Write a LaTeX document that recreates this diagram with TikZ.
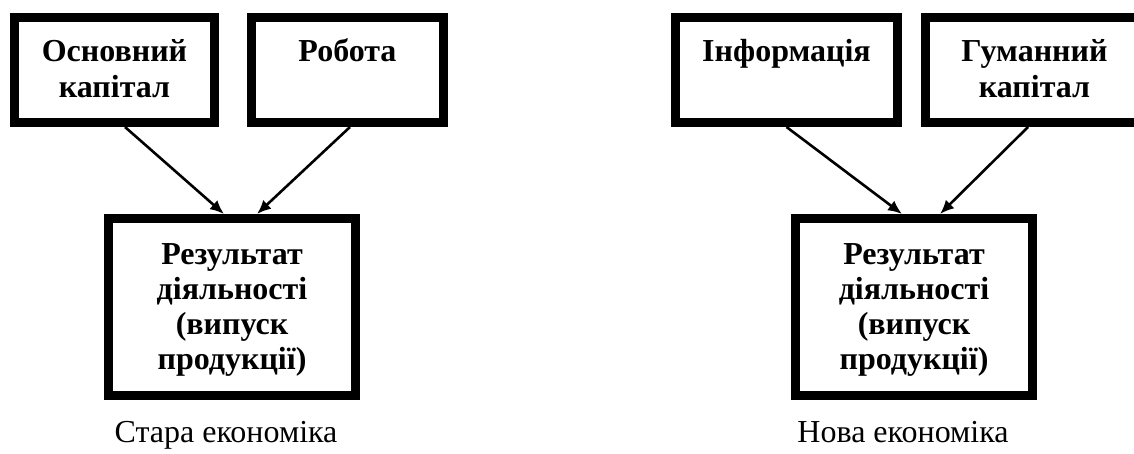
\documentclass[tikz,border=0pt]{standalone}
\usepackage{fontspec}
\setmainfont{Liberation Serif}
\usetikzlibrary{arrows.meta}
\newcommand{\topstrut}{\rule{0pt}{28pt}}
\newcommand{\botstrut}{\rule[-8pt]{0pt}{8pt}}
\tikzset{
  box/.style={draw=black, line width=9pt, fill=white, align=center, inner sep=0pt,
    font=\fontsize{32}{36}\selectfont\bfseries},
  resbox/.style={box, font=\fontsize{32}{35}\selectfont\bfseries},
  arr/.style={line width=2.6pt, -{Latex[length=14pt,width=12pt]}},
  caption/.style={font=\fontsize{32}{36}\selectfont, anchor=base, inner sep=0pt}
}
\begin{document}
\begin{tikzpicture}[x=1pt,y=-1pt]
\useasboundingbox (0,0) rectangle (1134,454);
% old economy
\node[box, minimum width=200pt, minimum height=105pt] (b1) at (114.5,70) {\topstrut Основний\\капітал\botstrut};
\node[box, minimum width=192pt, minimum height=105pt] (b2) at (347.5,70) {\topstrut Робота\\\mbox{}\botstrut};
\node[resbox, minimum width=247pt, minimum height=177pt] (r1) at (232,307) {\topstrut Результат\\діяльності\\(випуск\\продукції)\botstrut};
\draw[arr] ([xshift=10.5pt]b1.south) -- ([xshift=-8pt]r1.north);
\draw[arr] ([xshift=2.5pt]b2.south) -- ([xshift=25pt]r1.north);
\node[caption] (c1) at (226,442) {Стара економіка};
% new economy
\node[box, minimum width=222pt, minimum height=105pt] (b3) at (786.5,70) {\topstrut Інформація\\\mbox{}\botstrut};
\node[box, minimum width=218pt, minimum height=105pt] (b4) at (1034.5,70) {\topstrut Гуманний\\капітал\botstrut};
\node[resbox, minimum width=237pt, minimum height=177pt] (r2) at (914,307) {\topstrut Результат\\діяльності\\(випуск\\продукції)\botstrut};
\draw[arr] (b3.south) -- ([xshift=-12pt]r2.north);
\draw[arr] ([xshift=-6.5pt]b4.south) -- ([xshift=26pt]r2.north);
\node[caption] (c2) at (903,442) {Нова економіка};
\end{tikzpicture}
\end{document}
